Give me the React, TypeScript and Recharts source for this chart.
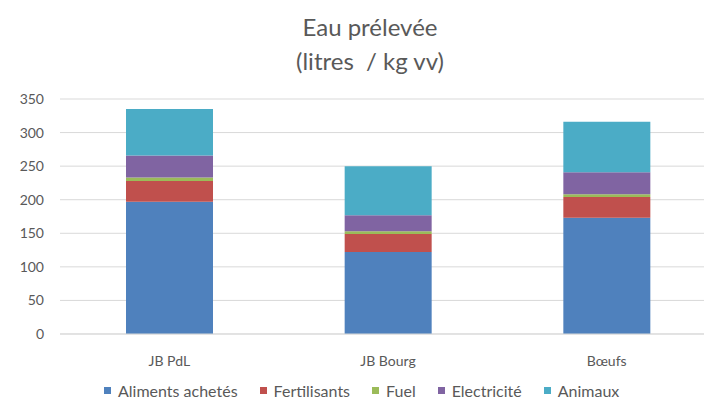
import React from "react";
import { BarChart, Bar, XAxis, YAxis, CartesianGrid, Legend } from "recharts";

const categories = ["JB PdL", "JB Bourg", "Bœufs"];
const aliments = [197, 122, 173];
const fertilisants = [31, 27, 31];
const fuel = [5, 4, 4];
const electricite = [33, 24, 33];
const animaux = [69, 73, 75];
const yTicks = [0, 50, 100, 150, 200, 250, 300, 350];

const series = [
    { key: "aliments", name: "Aliments achetés", color: "#4F81BD" },
    { key: "fertilisants", name: "Fertilisants", color: "#C0504D" },
    { key: "fuel", name: "Fuel", color: "#9BBB59" },
    { key: "electricite", name: "Electricité", color: "#8064A2" },
    { key: "animaux", name: "Animaux", color: "#4BACC6" },
];

const chartData = categories.map((name, i) => ({
    name,
    aliments: aliments[i],
    fertilisants: fertilisants[i],
    fuel: fuel[i],
    electricite: electricite[i],
    animaux: animaux[i],
}));

const textColor = "#595959";
const font = "Lato, 'Open Sans', sans-serif";

// keep the legend in series order (recharts sorts the payload otherwise)
function LegendContent() {
    return (
        <div style={{ display: "flex", alignItems: "center", paddingLeft: 104, height: 33, fontFamily: font, fontSize: 16, color: textColor }}>
            {series.map((s) => (
                <span key={s.key} style={{ display: "flex", alignItems: "center", marginRight: 22 }}>
                    <span style={{ width: 7, height: 7, background: s.color, marginRight: 7, display: "inline-block" }} />
                    {s.name}
                </span>
            ))}
        </div>
    );
}

export default function App() {
    return (
        <div style={{ position: "absolute", left: 0, top: 0, width: 704, height: 407, overflow: "hidden", background: "#fff" }}>
            <div style={{ position: "absolute", left: 0, top: 10, width: 740, textAlign: "center", fontFamily: font, fontSize: 24, color: textColor, lineHeight: "34px" }}>
                <div>Eau prélevée</div>
                <div>(litres&nbsp; / kg vv)</div>
            </div>
            <BarChart
                width={716}
                height={407}
                data={chartData}
                margin={{ top: 99, right: 0, left: 0, bottom: 0 }}
                style={{ position: "absolute", left: 0, top: 0 }}
            >
                <CartesianGrid vertical={false} stroke="#d9d9d9" />
                <XAxis
                    dataKey="name"
                    axisLine={{ stroke: "#d9d9d9" }}
                    tickLine={false}
                    tickSize={0}
                    tickMargin={22}
                    height={40}
                    tick={{ fill: textColor, fontSize: 14, fontFamily: font }}
                />
                <YAxis
                    ticks={yTicks}
                    domain={[0, 350]}
                    width={60}
                    axisLine={false}
                    tickLine={false}
                    tickSize={0}
                    tickMargin={16}
                    tick={{ fill: textColor, fontSize: 14, fontFamily: font }}
                />
                <Legend verticalAlign="bottom" height={33} content={<LegendContent />} />
                {series.map((s) => (
                    <Bar key={s.key} dataKey={s.key} name={s.name} stackId="a" fill={s.color} barSize={87} isAnimationActive={false} />
                ))}
            </BarChart>
        </div>
    );
}
